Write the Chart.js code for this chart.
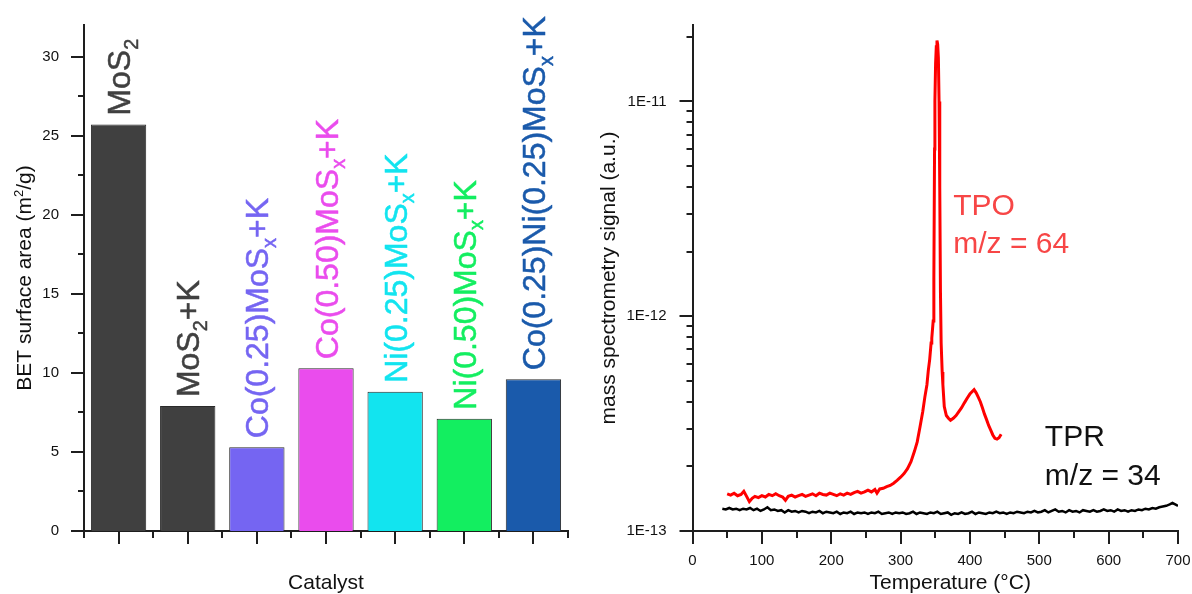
<!DOCTYPE html>
<html>
<head>
<meta charset="utf-8">
<script src="https://cdn.jsdelivr.net/npm/chart.js@4.4.1/dist/chart.umd.min.js"></script>
<style>
  html, body { margin: 0; padding: 0; background: #fff; }
  #wrap { position: relative; width: 1192px; height: 594px; }
  #left { position: absolute; left: 0; top: 0; }
  #right { position: absolute; left: 590px; top: 0; }
</style>
</head>
<body>
<div id="wrap">
  <canvas id="left" width="590" height="594"></canvas>
  <canvas id="right" width="602" height="594"></canvas>
</div>
<script>
// ---- data: BET surface area ----
// "_" marks a one-character subscript
const catalysts = ['MoS_2', 'MoS_2+K', 'Co(0.25)MoS_x+K', 'Co(0.50)MoS_x+K',
                   'Ni(0.25)MoS_x+K', 'Ni(0.50)MoS_x+K', 'Co(0.25)Ni(0.25)MoS_x+K'];
const betArea = [25.7, 7.9, 5.3, 10.3, 8.8, 7.1, 9.6];
const betTicks = [0, 5, 10, 15, 20, 25, 30];
const betMinorTicks = [2.5, 7.5, 12.5, 17.5, 22.5, 27.5];

// ---- data: mass spectrometry, signal in units of 1E-13 a.u. ----
const tpoTemp = [50, 55, 60, 65, 70, 74, 78, 82, 86, 90, 95, 100, 105, 110, 115, 120, 125, 130, 134, 138,
  143, 148, 153, 158, 163, 168, 173, 178, 183, 188, 193, 198, 203, 208, 213, 218, 223, 228, 233, 238,
  243, 248, 253, 258, 263, 266, 270, 275, 280, 285, 290, 295, 300, 305, 310, 315, 320, 324, 328, 332,
  335, 338, 340, 342, 344, 345, 347, 348, 349, 349.5, 350.5, 351.5, 352.5, 353.5, 354.5, 355.5, 356.5, 357.5, 358.5, 360,
  361, 363, 366, 369, 372, 376, 380, 384, 388, 392, 396, 400, 403, 406, 409, 412, 415, 418, 421, 424,
  427, 430, 433, 436, 439, 442, 445];
const tpoSignal = [1.49, 1.47, 1.50, 1.46, 1.48, 1.53, 1.45, 1.37, 1.42, 1.45, 1.43, 1.46, 1.44, 1.48, 1.46, 1.49, 1.46, 1.44, 1.39, 1.45,
  1.47, 1.44, 1.46, 1.48, 1.45, 1.47, 1.49, 1.46, 1.50, 1.48, 1.47, 1.50, 1.48, 1.46, 1.49, 1.47, 1.50, 1.48, 1.51, 1.53,
  1.50, 1.52, 1.55, 1.52, 1.56, 1.50, 1.57, 1.58, 1.61, 1.63, 1.67, 1.72, 1.78, 1.85, 1.95, 2.10, 2.35, 2.60, 3.05, 3.60,
  4.20, 4.80, 5.60, 6.30, 7.50, 7.90, 9.5, 15, 60, 100, 150, 180, 192, 185, 160, 100, 40, 13, 7.5, 5.5,
  4.8, 3.8, 3.45, 3.35, 3.28, 3.35, 3.45, 3.6, 3.75, 3.95, 4.15, 4.35, 4.45, 4.55, 4.4, 4.2, 4.0, 3.75, 3.5, 3.3,
  3.1, 2.95, 2.8, 2.7, 2.68, 2.72, 2.82];

const tprTemp = [43, 48, 53, 58, 63, 68, 73, 78, 83, 88, 93, 98, 103, 108, 113, 118, 123, 128, 133, 138,
  143, 148, 153, 158, 163, 168, 173, 178, 183, 188, 193, 198, 203, 208, 213, 218, 223, 228, 233, 238,
  243, 248, 253, 258, 263, 268, 273, 278, 283, 288, 293, 298, 303, 308, 313, 318, 323, 328, 333, 338,
  343, 348, 353, 358, 363, 368, 373, 378, 383, 388, 393, 398, 403, 408, 413, 418, 423, 428, 433, 438,
  443, 448, 453, 458, 463, 468, 473, 478, 483, 488, 493, 498, 503, 508, 513, 518, 523, 528, 533, 538,
  543, 548, 553, 558, 563, 568, 573, 578, 583, 588, 593, 598, 603, 608, 613, 618, 623, 628, 633, 638,
  643, 648, 653, 658, 663, 668, 673, 678, 683, 688, 692, 696, 700];
const tprSignal = [1.27, 1.26, 1.28, 1.26, 1.27, 1.25, 1.27, 1.26, 1.28, 1.25, 1.27, 1.24, 1.26, 1.29, 1.25, 1.26, 1.24, 1.25, 1.22, 1.25,
  1.23, 1.24, 1.22, 1.24, 1.23, 1.21, 1.23, 1.22, 1.24, 1.21, 1.23, 1.22, 1.21, 1.23, 1.20, 1.22, 1.21, 1.23, 1.20, 1.22,
  1.21, 1.22, 1.20, 1.22, 1.21, 1.23, 1.20, 1.21, 1.22, 1.20, 1.22, 1.21, 1.22, 1.20, 1.21, 1.23, 1.20, 1.22, 1.21, 1.20,
  1.22, 1.21, 1.23, 1.20, 1.21, 1.22, 1.19, 1.21, 1.20, 1.22, 1.20, 1.21, 1.23, 1.20, 1.22, 1.21, 1.20, 1.22, 1.21, 1.23,
  1.21, 1.22, 1.20, 1.22, 1.21, 1.23, 1.22, 1.21, 1.23, 1.22, 1.24, 1.22, 1.23, 1.25, 1.22, 1.24, 1.26, 1.23, 1.24, 1.22,
  1.25, 1.23, 1.24, 1.22, 1.25, 1.24, 1.23, 1.25, 1.23, 1.24, 1.26, 1.24, 1.25, 1.23, 1.26, 1.24, 1.25, 1.23, 1.25, 1.24,
  1.26, 1.25, 1.27, 1.26, 1.28, 1.27, 1.29, 1.30, 1.31, 1.33, 1.35, 1.33, 1.31];

const tempTicks = [0, 100, 200, 300, 400, 500, 600, 700];
const tempMinorTicks = [50, 150, 250, 350, 450, 550, 650];
const signalTicks = [1, 10, 100];
const signalMinorTicks = [2, 3, 4, 5, 6, 7, 8, 9, 20, 30, 40, 50, 60, 70, 80, 90, 200];

const barColors = ['#404040', '#404040', '#7565f2', '#ea4ced', '#12e4ef', '#13ee60', '#1a5aab'];
const FONT = "'Liberation Sans', Arial, sans-serif";
const AXIS = '#1e1e1e';

// text with _x subscripts / ^x superscripts, drawn left-aligned on a baseline
function richParts(str) {
  const parts = [];
  let buf = '';
  for (let i = 0; i < str.length; i++) {
    const c = str[i];
    if ((c === '_' || c === '^') && i + 1 < str.length) {
      if (buf) parts.push({ t: buf, k: '' });
      buf = '';
      parts.push({ t: str[i + 1], k: c === '_' ? 'sub' : 'sup' });
      i++;
    } else buf += c;
  }
  if (buf) parts.push({ t: buf, k: '' });
  return parts;
}
function richWidth(ctx, str, size) {
  let w = 0;
  richParts(str).forEach(p => {
    ctx.font = (p.k ? size * 0.62 : size) + 'px ' + FONT;
    w += ctx.measureText(p.t).width;
  });
  return w;
}
function drawRich(ctx, str, x, y, size, color, stroke) {
  ctx.fillStyle = color;
  ctx.strokeStyle = color;
  ctx.lineWidth = stroke || 0;
  ctx.lineJoin = 'round';
  ctx.textAlign = 'left';
  ctx.textBaseline = 'alphabetic';
  let cx = x;
  richParts(str).forEach(p => {
    const s = p.k ? size * 0.62 : size;
    ctx.font = s + 'px ' + FONT;
    const dy = p.k === 'sub' ? size * 0.24 : (p.k === 'sup' ? -size * 0.4 : 0);
    ctx.fillText(p.t, cx, y + dy);
    if (stroke) ctx.strokeText(p.t, cx, y + dy);
    cx += ctx.measureText(p.t).width;
  });
}
// vertical text reading bottom-to-top, baseline at x
function drawUp(ctx, str, x, y, size, color, centered, stroke) {
  ctx.save();
  ctx.translate(x, y);
  ctx.rotate(-Math.PI / 2);
  const w = centered ? richWidth(ctx, str, size) : 0;
  drawRich(ctx, str, -w / 2, 0, size, color, stroke);
  ctx.restore();
}

// keep the plot area exactly where the layout padding puts it
function fixBox(w, h) {
  return s => {
    if (w !== null) s.width = w;
    if (h !== null) s.height = h;
    s.paddingTop = 0; s.paddingBottom = 0; s.paddingLeft = 0; s.paddingRight = 0;
  };
}

// tick marks drawn through the chart scales
const tickMarks = {
  id: 'tickMarks',
  afterDraw(chart, args, opts) {
    const ctx = chart.ctx;
    ctx.save();
    ctx.strokeStyle = AXIS;
    ctx.lineWidth = 2;
    (opts.marks || []).forEach(m => {
      const sc = chart.scales[m.scale];
      m.values.forEach(v => {
        const p = Math.round(sc.getPixelForValue(v));
        ctx.beginPath();
        if (sc.isHorizontal()) { ctx.moveTo(p, sc.top); ctx.lineTo(p, sc.top + m.len); }
        else { ctx.moveTo(sc.right - m.len, p); ctx.lineTo(sc.right, p); }
        ctx.stroke();
      });
    });
    ctx.restore();
  }
};

// axis titles
const titles = {
  id: 'titles',
  afterDraw(chart, args, opts) {
    const ctx = chart.ctx, a = chart.chartArea;
    (opts.items || []).forEach(t => {
      if (t.vertical) {
        drawUp(ctx, t.text, a.left + t.dx, (a.top + a.bottom) / 2, t.size, t.color, true);
      } else {
        const w = richWidth(ctx, t.text, t.size);
        drawRich(ctx, t.text, (a.left + a.right) / 2 + (t.dx || 0) - w / 2, t.y, t.size, t.color);
      }
    });
  }
};

// rotated catalyst names above the bars
const barLabels = {
  id: 'barLabels',
  afterDatasetsDraw(chart) {
    const ctx = chart.ctx;
    const meta = chart.getDatasetMeta(0);
    const size = 32;
    meta.data.forEach((bar, i) => {
      drawUp(ctx, chart.data.labels[i], bar.x + size * 0.36, bar.y - 9, size, barColors[i], false, 0.5);
    });
  }
};

// TPO / TPR annotations anchored in data coordinates
const annotations = [
  { lines: ['TPO', 'm/z = 64'], x: 376, y: 29.7, color: '#f74646' },
  { lines: ['TPR', 'm/z = 34'], x: 508, y: 2.48, color: '#111111' }
];
const curveLabels = {
  id: 'curveLabels',
  afterDraw(chart) {
    const ctx = chart.ctx;
    ctx.save();
    ctx.font = '30px ' + FONT;
    ctx.textAlign = 'left';
    ctx.textBaseline = 'alphabetic';
    annotations.forEach(an => {
      const px = chart.scales.x.getPixelForValue(an.x);
      const py = chart.scales.y.getPixelForValue(an.y);
      ctx.fillStyle = an.color;
      an.lines.forEach((ln, k) => ctx.fillText(ln, px, py + k * 38.5));
    });
    ctx.restore();
  }
};

const tickFont = { family: FONT, size: 15 };

new Chart(document.getElementById('left'), {
  type: 'bar',
  data: {
    labels: catalysts,
    datasets: [{
      data: betArea,
      backgroundColor: barColors,
      borderColor: '#2a2a2a',
      borderWidth: 1,
      barPercentage: 0.8,
      categoryPercentage: 1
    }]
  },
  options: {
    responsive: false,
    animation: false,
    layout: { padding: { top: 25, right: 22, left: 0, bottom: 0 } },
    plugins: {
      legend: { display: false },
      tooltip: { enabled: false },
      tickMarks: {
        marks: [
          { scale: 'y', values: betTicks, len: 13 },
          { scale: 'y', values: betMinorTicks, len: 6 },
          { scale: 'x', values: catalysts.map((c, i) => i), len: 13 },
          { scale: 'x', values: catalysts.map((c, i) => i - 0.5).concat([catalysts.length - 0.5]), len: 7 }
        ]
      },
      titles: {
        items: [
          { text: 'BET surface area (m^2/g)', vertical: true, dx: -53, size: 21, color: '#111' },
          { text: 'Catalyst', y: 589, size: 21, color: '#111' }
        ]
      }
    },
    scales: {
      x: {
        grid: { display: false, drawTicks: false },
        border: { display: true, color: AXIS, width: 2 },
        ticks: { display: false },
        afterFit: fixBox(null, 63)
      },
      y: {
        min: 0, max: 32,
        grid: { display: false, drawTicks: false },
        border: { display: true, color: AXIS, width: 2 },
        afterBuildTicks(s) { s.ticks = betTicks.map(v => ({ value: v })); },
        ticks: { font: tickFont, color: '#111', padding: 25, autoSkip: false },
        afterFit: fixBox(84, null)
      }
    }
  },
  plugins: [tickMarks, titles, barLabels]
});

new Chart(document.getElementById('right'), {
  type: 'line',
  data: {
    datasets: [
      {
        label: 'TPR m/z = 34',
        data: tprTemp.map((t, i) => ({ x: t, y: tprSignal[i] })),
        borderColor: '#000000',
        borderWidth: 2.5,
        pointRadius: 0,
        tension: 0
      },
      {
        label: 'TPO m/z = 64',
        data: tpoTemp.map((t, i) => ({ x: t, y: tpoSignal[i] })),
        borderColor: '#ff0000',
        borderWidth: 3,
        pointRadius: 0,
        tension: 0
      }
    ]
  },
  options: {
    responsive: false,
    animation: false,
    layout: { padding: { top: 25, right: 14, left: 0, bottom: 0 } },
    plugins: {
      legend: { display: false },
      tooltip: { enabled: false },
      tickMarks: {
        marks: [
          { scale: 'y', values: signalTicks, len: 13 },
          { scale: 'y', values: signalMinorTicks, len: 6 },
          { scale: 'x', values: tempTicks, len: 13 },
          { scale: 'x', values: tempMinorTicks, len: 7 }
        ]
      },
      titles: {
        items: [
          { text: 'mass spectrometry signal (a.u.)', vertical: true, dx: -78, size: 21, color: '#111' },
          { text: 'Temperature (°C)', y: 589, dx: 15, size: 21, color: '#111' }
        ]
      }
    },
    scales: {
      x: {
        type: 'linear',
        min: 0, max: 700,
        grid: { display: false, drawTicks: false },
        border: { display: true, color: AXIS, width: 2 },
        afterBuildTicks(s) { s.ticks = tempTicks.map(v => ({ value: v })); },
        ticks: { font: tickFont, color: '#111', padding: 21, autoSkip: false, maxRotation: 0 },
        afterFit: fixBox(null, 63)
      },
      y: {
        type: 'logarithmic',
        min: 1, max: 227,
        grid: { display: false, drawTicks: false },
        border: { display: true, color: AXIS, width: 2 },
        afterBuildTicks(s) { s.ticks = signalTicks.map(v => ({ value: v })); },
        ticks: {
          font: tickFont, color: '#111', padding: 26, autoSkip: false,
          callback: v => '1E' + (Math.round(Math.log10(v)) - 13)
        },
        afterFit: fixBox(102.5, null)
      }
    }
  },
  plugins: [tickMarks, titles, curveLabels]
});
</script>
</body>
</html>
